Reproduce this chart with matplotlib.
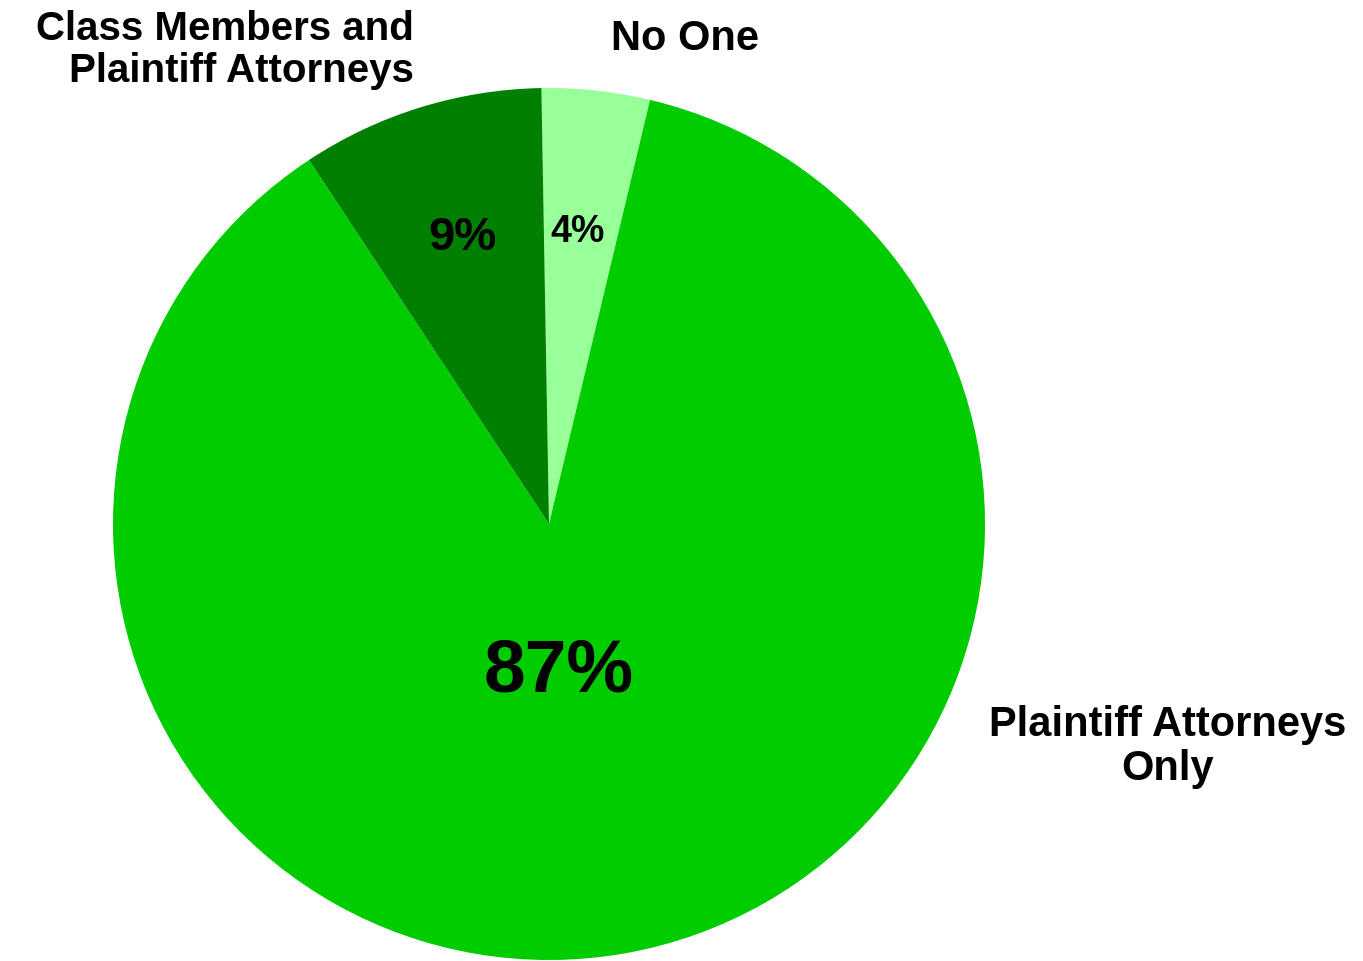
import matplotlib.pyplot as plt

categories = ['No One', 'Plaintiff Attorneys\nOnly', 'Class Members and\nPlaintiff Attorneys']
shares = [4, 87, 9]
colors = ['#99FF99', '#00CC00', '#007F00']

W, H = 1363, 962
cx, cy, r = 549, 525, 436

plt.rcParams['font.family'] = ['Liberation Sans', 'DejaVu Sans']
plt.rcParams['font.weight'] = 'bold'

fig = plt.figure(figsize=(W / 100, H / 100), dpi=100)
ax = fig.add_axes([(cx - r) / W, (H - cy - r) / H, 2 * r / W, 2 * r / H])
ax.pie(shares, colors=colors, startangle=91, counterclock=False, radius=1,
       wedgeprops=dict(linewidth=0))
ax.set_xlim(-1, 1)
ax.set_ylim(-1, 1)
ax.axis('off')


def px(x, y):
    # pixel position -> data coords of the pie axes
    return (x - cx) / r, (cy - y) / r


# percentages inside the slices
pct_pos = [(578, 232), (559, 672), (462, 238)]
pct_size = [27, 54, 34]
for v, (x, y), s in zip(shares, pct_pos, pct_size):
    ax.text(*px(x, y), f'{v}%', ha='center', va='center', fontsize=s)

# category labels outside the pie
ax.text(*px(685, 39), categories[0], ha='center', va='center', fontsize=30)
ax.text(*px(1168, 747), categories[1], ha='center', va='center', fontsize=30,
        linespacing=1.15)
ax.text(*px(414, 50), categories[2], ha='right', va='center', fontsize=29,
        linespacing=1.15, multialignment='right')

fig.savefig('out.png', dpi=100)
